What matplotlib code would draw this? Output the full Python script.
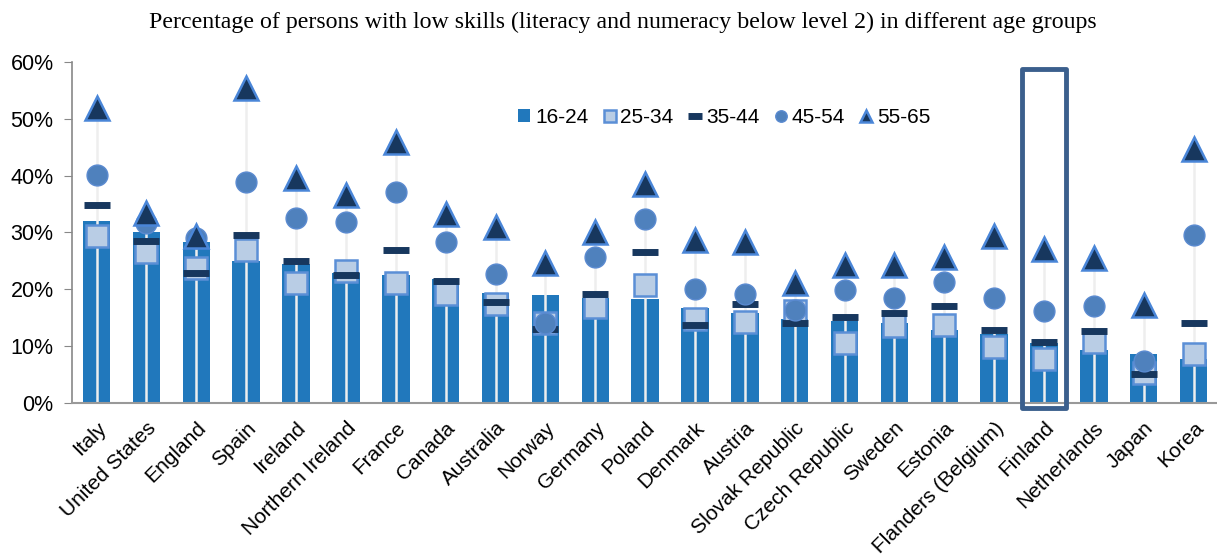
import numpy as np
import matplotlib
matplotlib.use("Agg")
from matplotlib import pyplot as plt
from matplotlib.patches import Rectangle
from matplotlib.ticker import FuncFormatter

# Data (percent of persons with low skills)
countries = ["Italy", "United States", "England", "Spain", "Ireland", "Northern Ireland",
             "France", "Canada", "Australia", "Norway", "Germany", "Poland", "Denmark",
             "Austria", "Slovak Republic", "Czech Republic", "Sweden", "Estonia",
             "Flanders (Belgium)", "Finland", "Netherlands", "Japan", "Korea"]
age_16_24 = [32.0, 30.0, 28.4, 24.9, 24.5, 22.9, 22.6, 21.9, 19.3, 19.0, 18.5, 18.3, 16.8,
             15.8, 14.7, 14.4, 14.0, 12.8, 12.1, 10.5, 9.3, 8.6, 7.7]
age_25_34 = [29.3, 26.6, 23.7, 26.9, 21.1, 23.2, 21.1, 19.1, 17.4, 14.1, 16.9, 20.8, 14.7,
             14.3, 16.1, 10.6, 13.5, 13.7, 9.8, 7.7, 10.8, 5.3, 8.7]
age_35_44 = [34.9, 28.5, 22.9, 29.5, 24.9, 22.5, 27.0, 21.4, 17.8, 13.1, 19.2, 26.5, 13.8,
             17.4, 14.0, 15.1, 15.8, 17.1, 12.8, 10.8, 12.7, 5.1, 14.0]
age_45_54 = [40.1, 31.6, 29.0, 38.9, 32.6, 31.9, 37.2, 28.4, 22.7, 14.1, 25.6, 32.4, 20.1,
             19.1, 16.4, 19.8, 18.4, 21.3, 18.5, 16.2, 17.1, 7.4, 29.5]
age_55_65 = [51.9, 33.4, 29.3, 55.5, 39.5, 36.6, 46.0, 33.2, 31.0, 24.6, 30.1, 38.5, 28.6,
             28.4, 21.2, 24.3, 24.3, 25.7, 29.3, 27.1, 25.5, 17.2, 44.7]
highlight = "Finland"

plt.rcParams['font.family'] = ['Liberation Sans', 'DejaVu Sans']

fig = plt.figure(figsize=(12.17, 5.55), dpi=100)
ax = fig.add_axes([0.0589, 0.2739, 0.9424, 0.6144])

x = np.arange(len(countries))
v1 = np.array(age_16_24) / 100
v2 = np.array(age_25_34) / 100
v3 = np.array(age_35_44) / 100
v4 = np.array(age_45_54) / 100
v5 = np.array(age_55_65) / 100

bars = ax.bar(x, v1, width=0.55, color='#2178bc', zorder=2, label='16-24')
# drop lines from the highest point down to the axis
top = np.max(np.vstack([v1, v2, v3, v4, v5]), axis=0)
ax.vlines(x, 0, top, color='#eeeeee', lw=1.8, zorder=2.5)

l2, = ax.plot(x, v2, ls='none', marker='s', ms=16, mfc='#b9cde5', mec='#5b8fd6', mew=1.8,
              zorder=3, label='25-34')
l3, = ax.plot(x, v3, ls='none', marker='_', ms=18.5, mec='#17375e', mew=5,
              zorder=4, label='35-44')
l4, = ax.plot(x, v4, ls='none', marker='o', ms=15, mfc='#4f81bd', mec='#5a8ad0', mew=1,
              zorder=5, label='45-54')
l5, = ax.plot(x, v5, ls='none', marker='^', ms=17, mfc='#17375e', mec='#4a86d8', mew=1.8,
              zorder=6, label='55-65')

# highlight box around Finland
i = countries.index(highlight)
ax.add_patch(Rectangle((i - 0.44, -0.009), 0.88, 0.597, fill=False, ec='#3b5f8d', lw=3.5,
                       joinstyle='round', clip_on=False, zorder=7))

ax.set_xlim(-0.5, len(countries) - 0.5)
ax.set_ylim(0, 0.6)
ax.set_yticks(np.arange(0, 0.61, 0.1))
ax.yaxis.set_major_formatter(FuncFormatter(lambda v, p: '{:.0f}%'.format(v * 100)))
ax.set_xticks(x)
ax.set_xticklabels(countries, rotation=45, ha='right', rotation_mode='anchor')
ax.tick_params(axis='y', labelsize=15.5, length=6, color='#888888', pad=7)
ax.tick_params(axis='x', labelsize=15, length=0, pad=11)
for s in ['top', 'right']:
    ax.spines[s].set_visible(False)
ax.spines['left'].set_color('#888888')
ax.spines['bottom'].set_color('#999999')
ax.spines['left'].set_linewidth(1.2)
ax.spines['bottom'].set_linewidth(1.5)

ax.legend(handles=[bars, l2, l3, l4, l5], loc='center', bbox_to_anchor=(0.5953, 0.789),
          bbox_transform=fig.transFigure, ncol=5, frameon=False, fontsize=15,
          markerscale=0.55, handlelength=0.55, handleheight=0.55, handletextpad=0.25,
          columnspacing=0.75)

fig.text(0.5115, 0.96, 'Percentage of persons with low skills (literacy and numeracy below level 2) '
         'in different age groups', ha='center', va='center', fontsize=17.2,
         family=['Liberation Serif', 'DejaVu Serif'])

fig.savefig('out.png', dpi=100)
